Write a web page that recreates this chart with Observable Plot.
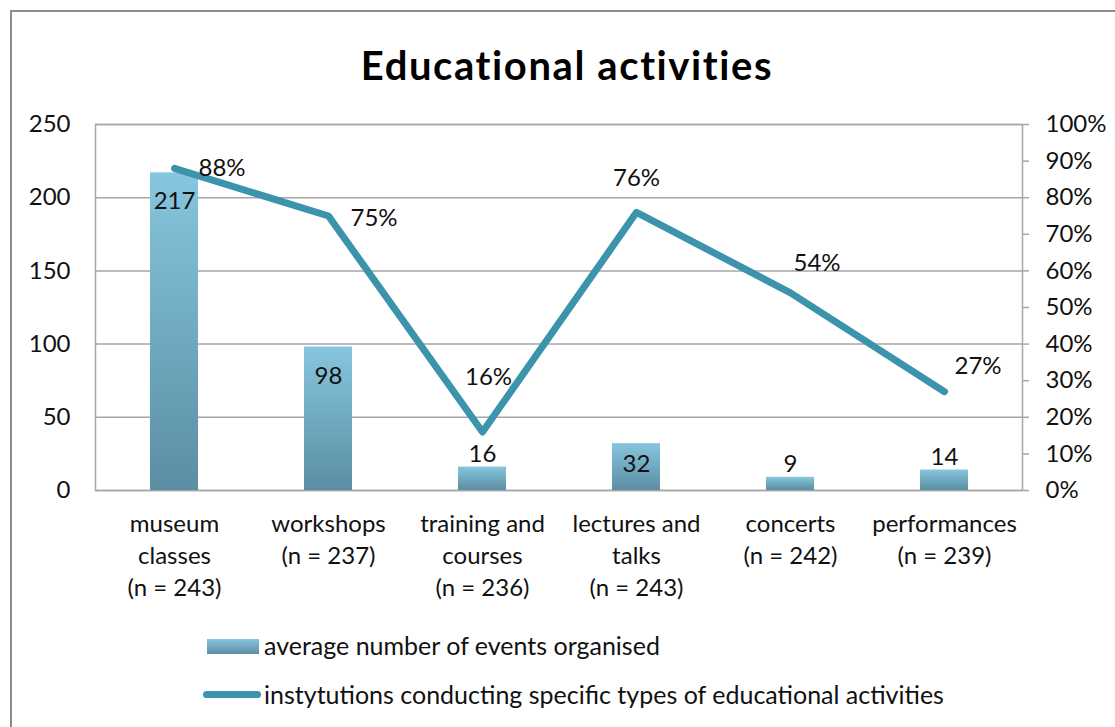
<!DOCTYPE html>
<html><head><meta charset="utf-8">
<script src="https://cdn.jsdelivr.net/npm/d3@7"></script>
<script src="https://cdn.jsdelivr.net/npm/@observablehq/plot@0.6"></script>
<style>
body{margin:0;background:#fff;font-family:Lato,"Open Sans",sans-serif;color:#111;}
#frame{position:absolute;left:10px;top:10px;width:1200px;height:800px;border:2px solid #8c8c8c;box-sizing:border-box;}
#title{position:absolute;left:0;width:1134px;top:40px;text-align:center;font-weight:bold;font-size:40px;line-height:50px;letter-spacing:1.6px;color:#000;}
#chart{position:absolute;left:0;top:100px;}
.lg{position:absolute;font-size:25px;line-height:32px;white-space:nowrap;}
</style></head><body>
<div id="frame"></div>
<div id="title"></div>
<div id="chart"></div>
<div id="legend"></div>
<script>
// ---- data ----
const chartTitle = "Educational activities";
const categories = ["museum classes", "workshops", "training and courses", "lectures and talks", "concerts", "performances"];
const tickLabels = ["museum\nclasses\n(n = 243)", "workshops\n(n = 237)", "training and\ncourses\n(n = 236)", "lectures and\ntalks\n(n = 243)", "concerts\n(n = 242)", "performances\n(n = 239)"];
const avgEvents = [217, 98, 16, 32, 9, 14];
const pctInstitutions = [88, 75, 16, 76, 54, 27];
const seriesNames = ["average number of events organised", "instytutions conducting specific types of educational activities"];
const leftTicks = [0, 50, 100, 150, 200, 250];
const rightTicks = [0, 10, 20, 30, 40, 50, 60, 70, 80, 90, 100];

// ---- build ----
const barTop = "#86c6de", barBottom = "#5b8ea3", lineColor = "#3b93ac", gridColor = "#a6a6a6";
const k = 250 / 100; // percent -> left-axis units
const data = categories.map((c, i) => ({cat: c, events: avgEvents[i], pct: pctInstitutions[i], i}));

document.getElementById("title").textContent = chartTitle;

const pctLabel = (i, o) => Plot.text(data.filter(d => d.i === i), {
  x: "cat", y: d => d.pct * k, text: d => d.pct + "%", fontSize: 24, fill: "#111", ...o
});
const barLabel = (idx, o) => Plot.text(data.filter(d => idx.includes(d.i)), {
  x: "cat", y: "events", text: d => String(d.events), fontSize: 24, fill: "#111", ...o
});

const svg = Plot.plot({
  width: 1115, height: 510,
  marginTop: 24, marginBottom: 120, marginLeft: 95, marginRight: 93,
  style: {fontFamily: "Lato, 'Open Sans', sans-serif", fontSize: "24px", color: "#111", background: "transparent"},
  x: {domain: categories, padding: 0},
  y: {domain: [0, 250]},
  marks: [
    Plot.ruleY(leftTicks, {stroke: gridColor, strokeWidth: 1.5}),
    Plot.frame({stroke: gridColor, strokeWidth: 1.5}),
    Plot.barY(data, {x: "cat", y: "events", fill: "url(#barGrad)", insetLeft: 53, insetRight: 53}),
    Plot.axisY({anchor: "left", ticks: leftTicks, tickSize: 0, tickPadding: 25, fontSize: 24, label: null}),
    Plot.axisY({anchor: "right", ticks: rightTicks.map(v => v * k), tickFormat: d => Math.round(d / k) + "%",
      tickSize: 6, tickPadding: 17, stroke: gridColor, strokeWidth: 1.5, fontSize: 24, label: null}),
    Plot.axisX({tickSize: 0, tickPadding: 18, lineHeight: 1.35, fontSize: 24, label: null,
      tickFormat: d => tickLabels[categories.indexOf(d)]}),
    Plot.lineY(data, {x: "cat", y: d => d.pct * k, stroke: lineColor, strokeWidth: 7,
      strokeLinecap: "round", strokeLinejoin: "round"}),
    barLabel([0, 1], {dy: 29}),
    Plot.text(data.filter(d => d.i === 3), {x: "cat", y: d => d.events / 2, text: d => String(d.events), fontSize: 24, fill: "#111", dy: -3}),
    barLabel([2, 4, 5], {dy: -13}),
    pctLabel(0, {textAnchor: "start", dx: 24, dy: 0}),
    pctLabel(1, {textAnchor: "start", dx: 22, dy: 2}),
    pctLabel(2, {dx: 6, dy: -55}),
    pctLabel(3, {dx: 0, dy: -34}),
    pctLabel(4, {textAnchor: "start", dx: 3, dy: -30}),
    pctLabel(5, {textAnchor: "start", dx: 10, dy: -25})
  ]
});
const ns = "http://www.w3.org/2000/svg";
const defs = document.createElementNS(ns, "defs");
defs.innerHTML = `<linearGradient id="barGrad" x1="0" y1="0" x2="0" y2="1"><stop offset="0" stop-color="${barTop}"/><stop offset="1" stop-color="${barBottom}"/></linearGradient>`;
svg.insertBefore(defs, svg.firstChild);
document.getElementById("chart").appendChild(svg);

const lg = document.getElementById("legend");
lg.innerHTML = `
<div style="position:absolute;left:207px;top:639px;width:52px;height:15px;background:linear-gradient(${barTop},${barBottom})"></div>
<div class="lg" style="left:264px;top:629px">${seriesNames[0]}</div>
<div style="position:absolute;left:203px;top:691px;width:58px;height:7px;border-radius:4px;background:${lineColor}"></div>
<div class="lg" style="left:264px;top:678px">${seriesNames[1]}</div>`;
</script>
</body></html>
